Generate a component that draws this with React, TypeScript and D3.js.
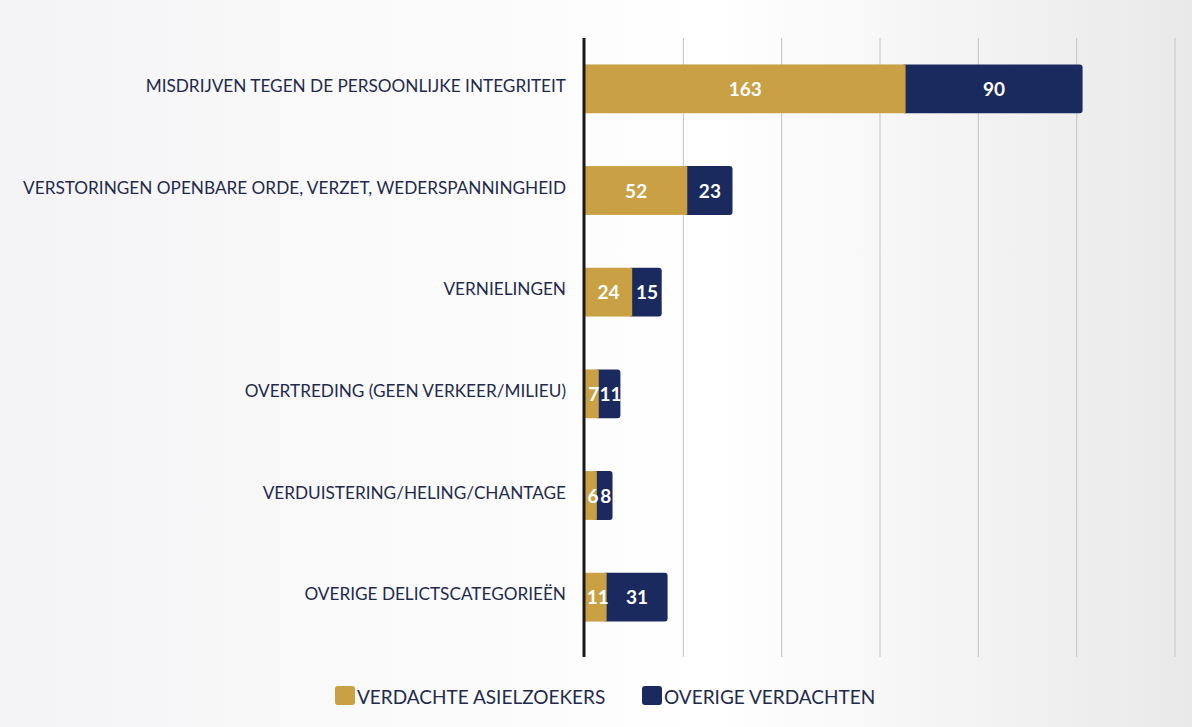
import React, { useEffect, useRef } from "react";
import * as d3 from "d3";

const categories = [
  "MISDRIJVEN TEGEN DE PERSOONLIJKE INTEGRITEIT",
  "VERSTORINGEN OPENBARE ORDE, VERZET, WEDERSPANNINGHEID",
  "VERNIELINGEN",
  "OVERTREDING (GEEN VERKEER/MILIEU)",
  "VERDUISTERING/HELING/CHANTAGE",
  "OVERIGE DELICTSCATEGORIEËN",
];
const asielzoekers = [163, 52, 24, 7, 6, 11];
const overige = [90, 23, 15, 11, 8, 31];
const seriesNames = ["VERDACHTE ASIELZOEKERS", "OVERIGE VERDACHTEN"];
const gridTicks = [0, 50, 100, 150, 200, 250, 300];

const W = 1192;
const H = 727;
const GOLD = "#c9a043";
const NAVY = "#1b2a5e";
const TEXT = "#1f2a4c";

const App = () => {
  const ref = useRef<SVGSVGElement>(null);

  useEffect(() => {
    const svg = d3.select(ref.current);
    svg.selectAll("*").remove();

    const defs = svg.append("defs");
    const grad = defs
      .append("linearGradient")
      .attr("id", "bg")
      .attr("x1", "0")
      .attr("x2", "1")
      .attr("y1", "0")
      .attr("y2", "0");
    grad.append("stop").attr("offset", "0").attr("stop-color", "#f4f4f6");
    grad.append("stop").attr("offset", "0.6").attr("stop-color", "#ffffff");
    grad.append("stop").attr("offset", "1").attr("stop-color", "#e9e9ea");
    svg.append("rect").attr("width", W).attr("height", H).attr("fill", "url(#bg)");

    const x = d3.scaleLinear().domain([0, 300]).range([585, 1175]);
    const y = d3
      .scaleBand()
      .domain(categories)
      .range([38, 648])
      .paddingInner(0.52)
      .paddingOuter(0.26);

    // gridlines
    svg
      .append("g")
      .selectAll("line")
      .data(gridTicks.slice(1))
      .join("line")
      .attr("x1", (d) => x(d))
      .attr("x2", (d) => x(d))
      .attr("y1", 38)
      .attr("y2", 657)
      .attr("stroke", "#c4c4c4")
      .attr("stroke-width", 1);

    const rows = categories.map((c, i) => ({
      cat: c,
      a: asielzoekers[i],
      b: overige[i],
    }));

    const g = svg.append("g");
    // navy segment (rounded end), gold drawn on top of its left part
    g.selectAll(".navy")
      .data(rows)
      .join("rect")
      .attr("class", "navy")
      .attr("x", (d) => x(d.a) - 4)
      .attr("width", (d) => x(d.a + d.b) - x(d.a) + 4)
      .attr("y", (d) => y(d.cat)!)
      .attr("height", y.bandwidth())
      .attr("rx", 3)
      .attr("fill", NAVY);
    g.selectAll(".gold")
      .data(rows)
      .join("rect")
      .attr("class", "gold")
      .attr("x", x(0))
      .attr("width", (d) => x(d.a) - x(0))
      .attr("y", (d) => y(d.cat)!)
      .attr("height", y.bandwidth())
      .attr("fill", GOLD);

    // value labels
    const lbl = svg
      .append("g")
      .attr("font-family", "Lato, 'Open Sans', sans-serif")
      .attr("font-weight", 700)
      .attr("font-size", 19)
      .attr("fill", "#ffffff")
      .attr("text-anchor", "middle");
    rows.forEach((d) => {
      const cy = y(d.cat)! + y.bandwidth() / 2 + 7;
      lbl
        .append("text")
        .attr("x", (x(0) + x(d.a)) / 2 + (d.a < 12 ? 2 : 0))
        .attr("y", cy)
        .text(d.a);
      lbl
        .append("text")
        .attr("x", (x(d.a) + x(d.a + d.b)) / 2 + (d.b < 12 ? 1 : 0))
        .attr("y", cy)
        .text(d.b);
    });

    // axis line
    svg
      .append("line")
      .attr("x1", x(0) - 1)
      .attr("x2", x(0) - 1)
      .attr("y1", 38)
      .attr("y2", 657)
      .attr("stroke", "#1a1a1a")
      .attr("stroke-width", 3);

    // category labels
    svg
      .append("g")
      .attr("font-family", "Lato, 'Open Sans', sans-serif")
      .attr("font-size", 17.2)
      .attr("fill", TEXT)
      .attr("text-anchor", "end")
      .selectAll("text")
      .data(categories)
      .join("text")
      .attr("x", 566)
      .attr("y", (d) => y(d)! + y.bandwidth() / 2 + 3)
      .text((d) => d);

    // legend
    const legend = svg
      .append("g")
      .attr("font-family", "Lato, 'Open Sans', sans-serif")
      .attr("font-size", 19)
      .attr("fill", TEXT);
    const legendX = [335, 642];
    [GOLD, NAVY].forEach((c, i) => {
      legend
        .append("rect")
        .attr("x", legendX[i])
        .attr("y", 686)
        .attr("width", 20)
        .attr("height", 19)
        .attr("rx", 3)
        .attr("fill", c);
      legend
        .append("text")
        .attr("x", legendX[i] + 22)
        .attr("y", 704)
        .text(seriesNames[i]);
    });
  }, []);

  return (
    <svg
      ref={ref}
      width={W}
      height={H}
      style={{ position: "absolute", left: 0, top: 0, display: "block" }}
    />
  );
};

export default App;
